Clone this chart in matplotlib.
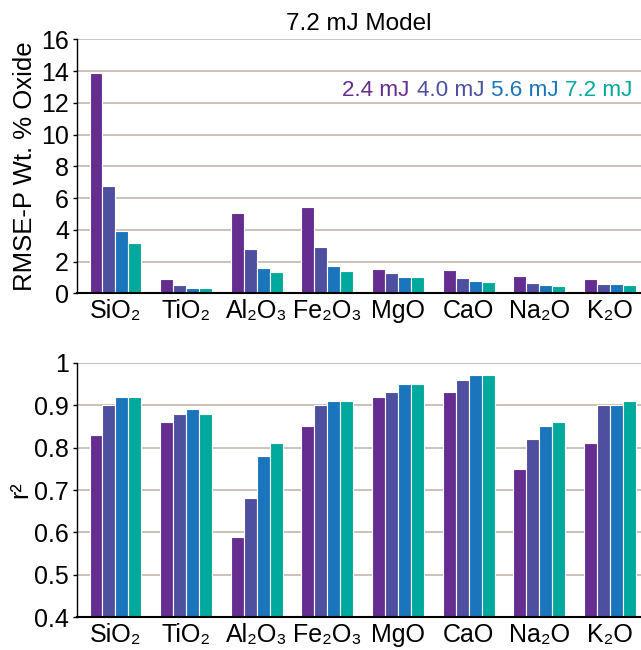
import numpy as np
import matplotlib
matplotlib.use("Agg")
import matplotlib.pyplot as plt

plt.rcParams['font.family'] = ['Liberation Sans', 'DejaVu Sans']

oxides = ["SiO₂", "TiO₂", "Al₂O₃", "Fe₂O₃", "MgO", "CaO", "Na₂O", "K₂O"]
energies = ["2.4 mJ", "4.0 mJ", "5.6 mJ", "7.2 mJ"]
colors = ["#662d91", "#4e4f9f", "#1b75bc", "#00a99d"]

# RMSE-P (wt. % oxide), one list per laser energy
rmse_24 = [13.87, 0.90, 5.06, 5.42, 1.53, 1.46, 1.07, 0.90]
rmse_40 = [6.78, 0.52, 2.76, 2.91, 1.30, 0.96, 0.63, 0.59]
rmse_56 = [3.91, 0.31, 1.61, 1.72, 1.05, 0.79, 0.52, 0.59]
rmse_72 = [3.14, 0.31, 1.36, 1.42, 1.00, 0.73, 0.46, 0.52]

# r^2
r2_24 = [0.83, 0.86, 0.59, 0.85, 0.92, 0.93, 0.75, 0.81]
r2_40 = [0.90, 0.88, 0.68, 0.90, 0.93, 0.96, 0.82, 0.90]
r2_56 = [0.92, 0.89, 0.78, 0.91, 0.95, 0.97, 0.85, 0.90]
r2_72 = [0.92, 0.88, 0.81, 0.91, 0.95, 0.97, 0.86, 0.91]

rmse = [rmse_24, rmse_40, rmse_56, rmse_72]
r2 = [r2_24, r2_40, r2_56, r2_72]

fig = plt.figure(figsize=(6.41, 6.50), dpi=100)
ax1 = fig.add_axes([0.1206, 0.5488, 0.8794, 0.3908])
ax2 = fig.add_axes([0.1206, 0.0503, 0.8794, 0.3917])

x = np.arange(len(oxides))
w = 0.1834
grid_c = "#c4b5ac"


def style(ax):
    for s in ["top", "right"]:
        ax.spines[s].set_visible(False)
    ax.spines["left"].set_linewidth(1.0)
    ax.spines["bottom"].set_linewidth(1.5)
    ax.yaxis.grid(True, color=grid_c, linewidth=1.2)
    ax.set_axisbelow(True)
    ax.tick_params(axis="y", direction="out", length=3, width=1, labelsize=18, pad=3)
    ax.tick_params(axis="x", length=0, labelsize=18, pad=4)
    ax.set_xticks(x)
    ax.set_xticklabels(oxides)
    ax.set_xlim(-0.54, 7.44)


for k in range(4):
    ax1.bar(x + (k - 1.5) * w, rmse[k], width=w, color=colors[k],
            edgecolor="white", linewidth=0.8)
    ax2.bar(x + (k - 1.5) * w, np.array(r2[k]) - 0.4, bottom=0.4, width=w,
            color=colors[k], edgecolor="white", linewidth=0.8)

style(ax1)
ax1.set_ylim(0, 16)
ax1.set_yticks(np.arange(0, 17, 2))
ax1.set_ylabel("RMSE-P Wt. % Oxide", fontsize=18.5, labelpad=3)
ax1.set_title("7.2 mJ Model", fontsize=17.5, pad=7)

style(ax2)
ax2.set_ylim(0.4, 1.0)
ax2.set_yticks([0.4, 0.5, 0.6, 0.7, 0.8, 0.9, 1.0])
ax2.set_yticklabels(["0.4", "0.5", "0.6", "0.7", "0.8", "0.9", "1"])
ax2.set_ylabel("r²", fontsize=18, labelpad=1)

# coloured legend text
xpos = 0.985
for k in range(3, -1, -1):
    t = ax1.text(xpos, 0.80, energies[k], color=colors[k], fontsize=16.2,
                 ha="right", va="center", transform=ax1.transAxes)
    fig.canvas.draw()
    bb = t.get_window_extent().transformed(ax1.transAxes.inverted())
    xpos = bb.x0 - 0.012

fig.savefig("out.png", dpi=100)
